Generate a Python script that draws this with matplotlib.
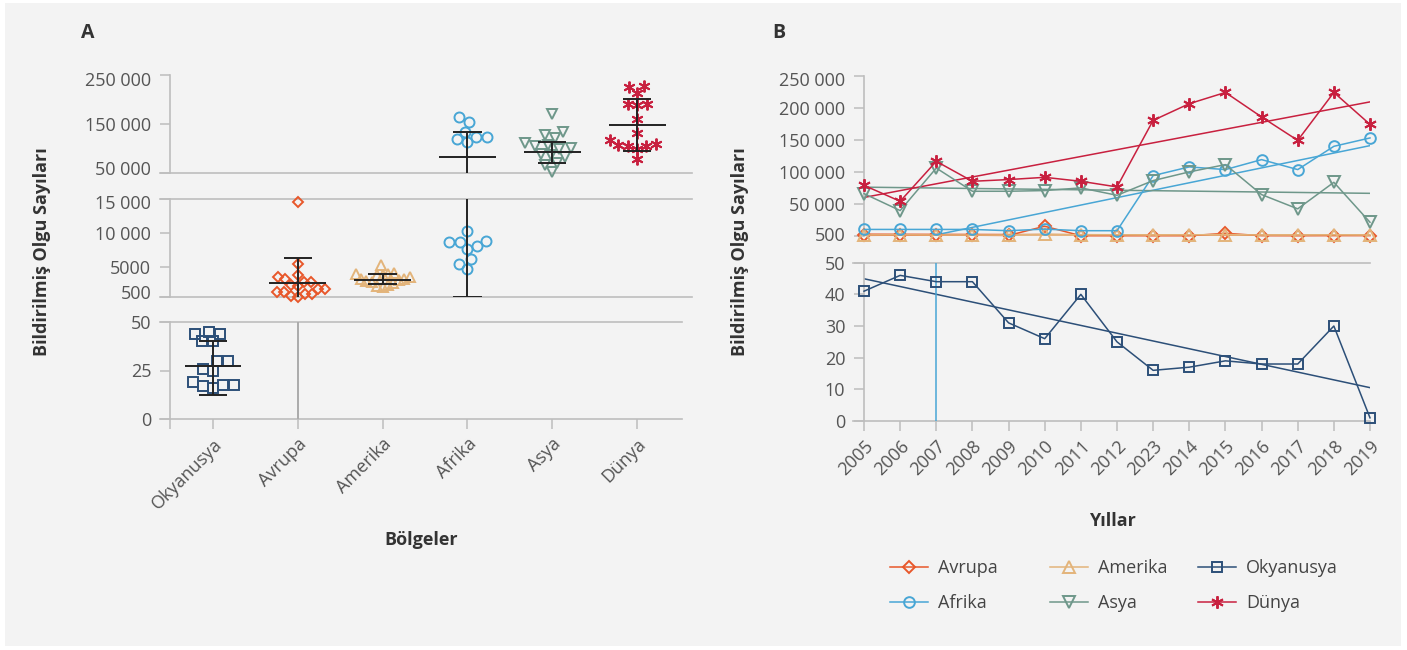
import numpy as np
import matplotlib.pyplot as plt
from matplotlib.patches import Rectangle
from matplotlib.lines import Line2D
from matplotlib.transforms import ScaledTranslation

plt.rcParams['font.family'] = ['Open Sans', 'DejaVu Sans']

# ---- panel A data ----
regions = ["Okyanusya", "Avrupa", "Amerika", "Afrika", "Asya", "Dünya"]
okyanusya_a = [44, 40, 40, 44, 45, 30, 25, 26, 30, 17.5, 17, 16, 17.5, 19]
avrupa_a = [14600, 5350, 3470, 3720, 3230, 2730, 2090, 1750, 1240, 1000,
            600, 500, 900, 1240, 1750, 2240, 2730]
amerika_a = [5200, 4100, 3900, 3900, 3800, 3700, 3400, 3200, 3100, 3000,
             2900, 2700, 2500, 2300, 2200, 2000]
afrika_a = [154700, 164900, 124100, 119400, 113300, 124100, 134300,
            10200, 8650, 8020, 7530, 8650, 8790, 6070, 5420, 4600]
asya_a = [169800, 134300, 127500, 120800, 105100, 100400, 107100, 111800,
          99000, 88800, 83300, 86700, 71000, 66300, 52700]
dunya_a = [226100, 227500, 213900, 190800, 190800, 189400, 159600, 132200,
           117300, 106500, 105100, 99600, 109200, 78000, 105100]
mean_a = [27.4, 2600, 3080, 83300, 93500, 148000]
upper_a = [40.4, 6200, 3870, 134300, 113900, 201000]
lower_a = [12.5, -1000, 2380, 500, 71000, 95500]

# ---- panel B data ----
years = ["2005", "2006", "2007", "2008", "2009", "2010", "2011", "2012",
         "2023", "2014", "2015", "2016", "2017", "2018", "2019"]
avrupa_b = [800, 1000, 1000, 1000, 600, 15000, 100, 100, 100, 100, 4000, 200, 100, 300, 300]
amerika_b = [1200, 1500, 1200, 1200, 1000, 2500, 1500, 1500, 1200, 1500, 2000, 1200, 1200, 1500, 1200]
okyanusya_b = [41, 46, 44, 44, 31, 26, 40, 25, 16, 17, 19, 18, 18, 30, 1]
afrika_b = [10000, 10000, 10000, 10000, 8000, 10500, 8000, 8000,
            94200, 107800, 103600, 119200, 103600, 140000, 153100]
asya_b = [66000, 39500, 106000, 69700, 69700, 70800, 75000, 63400,
          86400, 100000, 111400, 64500, 42200, 83700, 21200]
dunya_b = [79000, 54000, 116500, 85300, 88000, 91500, 85300, 76500,
           180600, 206700, 224300, 185900, 149300, 224300, 174300]

colors = {"Avrupa": "#E8572A", "Amerika": "#E3B47A", "Okyanusya": "#2C4F78",
          "Afrika": "#48A6D5", "Asya": "#6E978A", "Dünya": "#C8203F"}
markers = {"Avrupa": ("D", 5.4), "Amerika": ("^", 7.5), "Okyanusya": ("s", 6.8),
           "Afrika": ("o", 7.2), "Asya": ("v", 7.5), "Dünya": ((6, 2, 0), 8.5)}

GRID = "#BDBDBD"
TXT = "#555555"
DARK = "#333333"
W, H = 1407, 650


def rect(x0, y0, x1, y1):
    return [x0 / W, 1 - y1 / H, (x1 - x0) / W, (y1 - y0) / H]


fig = plt.figure(figsize=(W / 100, H / 100), dpi=100)
fig.patch.set_facecolor("white")
fig.add_artist(Rectangle((5 / W, 4 / H), (W - 11) / W, (H - 7) / H, transform=fig.transFigure,
                         facecolor="#F3F3F3", edgecolor="none", zorder=-10))


def style(ax, ylim, ticks, labels, xlim, shift_top=0, shift_bot=0):
    ax.set_facecolor("none")
    for s in ["top", "right", "bottom"]:
        ax.spines[s].set_visible(False)
    ax.spines["left"].set_color(GRID)
    ax.spines["left"].set_linewidth(1.2)
    ax.set_xlim(xlim)
    ax.set_ylim(ylim)
    ax.set_yticks(ticks)
    ax.set_yticklabels(labels)
    ax.tick_params(axis="y", direction="out", length=7.5, width=1.1, color=GRID,
                   labelcolor=TXT, labelsize=13, pad=6)
    ax.tick_params(axis="x", bottom=False, labelbottom=False)
    # end labels of a segment sit a little inside it
    tl = ax.get_yticklabels()
    tl[-1].set_transform(tl[-1].get_transform() + ScaledTranslation(0, -shift_top / 100, fig.dpi_scale_trans))
    tl[0].set_transform(tl[0].get_transform() + ScaledTranslation(0, shift_bot / 100, fig.dpi_scale_trans))


def hline(ax, ya, x0, x1):
    ax.plot([x0, x1], [ya, ya], transform=ax.transAxes, color=GRID, lw=1.2,
            clip_on=False, zorder=1)


# ================= panel A =================
xlim_a = (-0.507, 5.53)
ax_at = fig.add_axes(rect(170, 75, 682, 173))
ax_am = fig.add_axes(rect(170, 199, 682, 297))
ax_ab = fig.add_axes(rect(170, 322, 682, 419))
style(ax_at, (50000, 250000), [50000, 150000, 250000], ["50 000", "150 000", "250 000"], xlim_a, 4, 5)
style(ax_am, (500, 15000), [500, 5000, 10000, 15000], ["500", "5000", "10 000", "15 000"], xlim_a, 3, 5)
style(ax_ab, (0, 50), [0, 25, 50], ["0", "25", "50"], xlim_a)
hline(ax_at, 0, -0.0195, 1.0195)
hline(ax_am, 1, -0.0195, 1.0195)
hline(ax_am, 0, -0.0195, 1.0195)
hline(ax_ab, 1, -0.0195, 1.0)
hline(ax_ab, 0, -0.0195, 1.0)
ax_ab.tick_params(axis="x", bottom=True, labelbottom=True, direction="out", length=7.5,
                  width=1.1, color=GRID, labelcolor=TXT, labelsize=13, pad=4)
ax_ab.tick_params(axis="x", which="minor", bottom=True, length=7.5, width=1.1, color=GRID)
ax_ab.set_xticks(range(len(regions)))
ax_ab.set_xticks([xlim_a[0]], minor=True)
ax_ab.set_xticklabels(regions, rotation=45, ha="right", va="top", rotation_mode="anchor")

segs_a = [(ax_at, (50000, 250000)), (ax_am, (500, 15000)), (ax_ab, (0, 50))]


def seg_for(v):
    for ax, (y0, y1) in segs_a:
        if v >= y0:
            return ax
    return ax_ab


def swarm(py, d, wmax):
    xs = np.zeros(len(py))
    placed = []
    for i in np.argsort(py):
        y = py[i]
        cands = [0.0]
        for xj, yj in placed:
            dy = y - yj
            if abs(dy) < d:
                dx = np.sqrt(d * d - dy * dy)
                cands += [xj + dx, xj - dx]
        cands.sort(key=lambda c: (abs(c), c))
        for c in cands:
            if all((c - xj) ** 2 + (y - yj) ** 2 >= d * d - 1e-6 for xj, yj in placed):
                xs[i] = c
                break
        placed.append((xs[i], y))
    span = np.abs(xs).max()
    if span > wmax:
        xs = xs * wmax / span
    return xs


px_cat = ax_ab.transData.transform((1, 0))[0] - ax_ab.transData.transform((0, 0))[0]
data_a = [okyanusya_a, avrupa_a, amerika_a, afrika_a, asya_a, dunya_a]
for i, (name, vals) in enumerate(zip(regions, data_a)):
    axs = [seg_for(v) for v in vals]
    py = np.array([a.transData.transform((i, v))[1] for a, v in zip(axs, vals)])
    offs = swarm(py, 10.5, 27) / px_cat
    m, ms = markers[name]
    for a in set(axs):
        sel = [k for k in range(len(vals)) if axs[k] is a]
        a.plot(i + offs[sel], np.array(vals)[sel], ls="none", marker=m, ms=ms, mfc="none",
               mec=colors[name], mew=1.4, clip_on=False, zorder=2)

# mean and SD bars
for i in range(len(regions)):
    m, lo, hi = mean_a[i], lower_a[i], upper_a[i]
    for ax, (y0, y1) in segs_a:
        if hi < y0 or lo > y1:
            continue
        ins = lambda v: y0 <= v <= y1
        col = "#222222" if (ins(m) or ins(lo) or ins(hi)) else "#ABABAB"
        ax.vlines(i, max(lo, y0), min(hi, y1), color=col, lw=1.4, zorder=3)
        if ins(m):
            ax.hlines(m, i - 0.336, i + 0.336, color="#222222", lw=1.4, zorder=3)
        for v in (lo, hi):
            if ins(v):
                ax.hlines(v, i - 0.167, i + 0.167, color="#222222", lw=1.4, zorder=3)

# ================= panel B =================
x = np.arange(len(years))
xlim_b = (0, len(years) - 1)
ax_bt = fig.add_axes(rect(864, 76, 1370, 235.5))
ax_bb = fig.add_axes(rect(864, 262.7, 1370, 421))
style(ax_bt, (500, 250000), [500, 50000, 100000, 150000, 200000, 250000],
      ["500", "50 000", "100 000", "150 000", "200 000", "250 000"], xlim_b, 3, 1.5)
style(ax_bb, (0, 50), [0, 10, 20, 30, 40, 50], ["0", "10", "20", "30", "40", "50"], xlim_b)
hline(ax_bb, 1, -0.0217, 1.0)
hline(ax_bb, 0, -0.0217, 1.0)
ax_bb.tick_params(axis="x", bottom=True, labelbottom=True, direction="out", length=7.5,
                  width=1.1, color=GRID, labelcolor=TXT, labelsize=13, pad=4)
ax_bb.set_xticks(x)
ax_bb.set_xticklabels(years, rotation=45, ha="right", va="top", rotation_mode="anchor")

series_b = [("Avrupa", avrupa_b), ("Amerika", amerika_b), ("Okyanusya", okyanusya_b),
            ("Afrika", afrika_b), ("Asya", asya_b), ("Dünya", dunya_b)]
xf = np.linspace(x[0], x[-1], 200)
for name, vals in series_b:
    ax = ax_bb if name == "Okyanusya" else ax_bt
    c = colors[name]
    m, ms = markers[name]
    ax.plot(x, vals, color=c, lw=1.1, marker=m, ms=ms + 0.5, mfc="none", mec=c,
            mew=1.4, clip_on=False, zorder=3)
    coef = np.polyfit(x, vals, 1)
    ax.plot(xf, np.polyval(coef, xf), color=c, lw=1.1, zorder=2)
    if name == "Afrika":
        # fitted line leaves the upper segment; drawn straight down in the lower one
        ax_bb.axvline(np.round(-coef[1] / coef[0]), color=c, lw=1.1, zorder=2)

# ---- texts ----
fig.text(88 / W, 1 - 33 / H, "A", fontsize=14, fontweight="bold", color=DARK, ha="center", va="center")
fig.text(779 / W, 1 - 33 / H, "B", fontsize=14, fontweight="bold", color=DARK, ha="center", va="center")
for xp in (42, 740):
    fig.text(xp / W, 1 - 252 / H, "Bildirilmiş Olgu Sayıları", rotation=90, fontsize=13,
             fontweight="bold", color=DARK, ha="center", va="center")
fig.text(421 / W, 1 - 540 / H, "Bölgeler", fontsize=13, fontweight="bold", color=DARK,
         ha="center", va="center")
fig.text(1112 / W, 1 - 521 / H, "Yıllar", fontsize=13, fontweight="bold", color=DARK,
         ha="center", va="center")

# ---- legend (three columns) ----
for xp, names in [(890, ["Avrupa", "Afrika"]), (1050, ["Amerika", "Asya"]),
                  (1198, ["Okyanusya", "Dünya"])]:
    hs = []
    for n in names:
        mk, ms = markers[n]
        hs.append(Line2D([], [], color=colors[n], lw=1.1, marker=mk, ms=ms + 0.5,
                         mfc="none", mec=colors[n], mew=1.4))
    fig.legend(hs, names, loc="center left", bbox_to_anchor=(xp / W, 1 - 585.5 / H),
               frameon=False, borderpad=0, borderaxespad=0, handlelength=2.1,
               handletextpad=0.55, labelspacing=0.95, fontsize=13, labelcolor="#444444")

fig.savefig("out.png", dpi=100, facecolor=fig.get_facecolor())
